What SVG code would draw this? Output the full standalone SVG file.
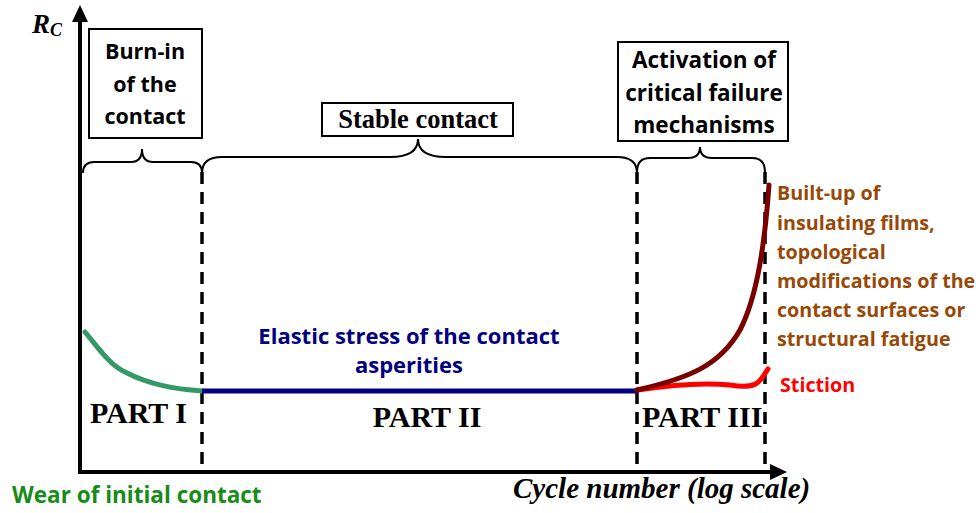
<svg xmlns="http://www.w3.org/2000/svg" width="980" height="513" viewBox="0 0 980 513">
<style>
.box{fill:#fff;stroke:#000;stroke-width:2}
.bt{font-family:"Open Sans","Liberation Sans",sans-serif;font-weight:bold;font-size:21.5px;fill:#000;text-anchor:middle}
.bt2{font-size:22.5px}
.brace{fill:none;stroke:#000;stroke-width:2}
.dash{stroke:#000;stroke-width:3.5;stroke-dasharray:12 8;fill:none}
.axis{stroke:#000;stroke-width:4;fill:none}
.part{font-family:"Liberation Serif",serif;font-weight:bold;font-size:30px;fill:#000}
.lbl{font-family:"Open Sans","Liberation Sans",sans-serif;font-weight:bold;font-size:19.7px}
.curve{fill:none;stroke-width:5;stroke-linecap:round}
</style>
<rect width="980" height="513" fill="#fff"/>
<g id="axes">
<line class="axis" x1="80" y1="20" x2="80" y2="474"/>
<polygon points="80,5 72,22 88,22" fill="#000"/>
<line class="axis" x1="78" y1="472" x2="772" y2="472"/>
<polygon points="787,472 770,464 770,480" fill="#000"/>
<text x="32" y="33" font-family="Liberation Serif,serif" font-weight="bold" font-style="italic" font-size="27">R<tspan font-size="18" dy="3">C</tspan></text>
<text x="513" y="498" font-family="Liberation Serif,serif" font-weight="bold" font-style="italic" font-size="29">Cycle number (log scale)</text>
</g>
<g id="connectors">
<path class="brace" d="M83,173 Q83,162 94,162 L131,162 Q142,162 142,149 Q142,162 153,162 L191,162 Q202,162 202,173"/>
<path class="brace" d="M202,173 Q202,157 222,157 L390,157 Q418,157 418,139 Q418,157 446,157 L617,157 Q637,157 637,173"/>
<path class="brace" d="M637,172 Q637,158 650,158 L688,158 Q700,158 700,147 Q700,158 712,158 L752,158 Q765,158 765,172"/>
<line class="dash" x1="202" y1="172" x2="202" y2="470"/>
<line class="dash" x1="637" y1="172" x2="637" y2="470"/>
<line class="dash" x1="765" y1="172" x2="765" y2="470"/>
</g>
<g id="burnin">
<rect class="box" x="89" y="29" width="113" height="109"/>
<text class="bt" x="145" y="59">Burn-in</text>
<text class="bt" x="145" y="92">of the</text>
<text class="bt" x="145" y="124">contact</text>
</g>
<g id="stable">
<rect class="box" x="322" y="103" width="191" height="33"/>
<text x="418" y="128" font-family="Liberation Serif,serif" font-weight="bold" font-size="26.5" text-anchor="middle">Stable contact</text>
</g>
<g id="activation">
<rect class="box" x="618" y="42" width="170" height="99"/>
<text class="bt bt2" x="704" y="68">Activation of</text>
<text class="bt bt2" x="704" y="101">critical failure</text>
<text class="bt bt2" x="704" y="133">mechanisms</text>
</g>
<g id="curves">
<path class="curve" stroke="#339966" d="M85,332 C100,350 110,365 125,372 C150,385 175,389 202,391"/>
<line x1="202" y1="391" x2="637" y2="391" stroke="#000080" stroke-width="5"/>
<path class="curve" stroke="#ff0000" d="M637,390 C670,385 700,382 730,385 C760,390 760,380 768,369"/>
<path class="curve" stroke="#7a0000" d="M637,390 C690,378 720,365 740,330 C758,295 765,240 769,185"/>
</g>
<g id="part1"><text class="part" x="90" y="423">PART I</text></g>
<g id="part2"><text class="part" x="427" y="427" text-anchor="middle">PART II</text></g>
<g id="part3"><text class="part" x="642" y="427">PART III</text></g>
<g id="elastic">
<text class="lbl" fill="#000080" x="409" y="344" text-anchor="middle" style="font-size:22px">Elastic stress of the contact</text>
<text class="lbl" fill="#000080" x="409" y="373" text-anchor="middle" style="font-size:22px">asperities</text>
</g>
<g id="builtup">
<text class="lbl" fill="#984807" x="777" y="200">Built-up of</text>
<text class="lbl" fill="#984807" x="777" y="230">insulating films,</text>
<text class="lbl" fill="#984807" x="777" y="259">topological</text>
<text class="lbl" fill="#984807" x="777" y="288">modifications of the</text>
<text class="lbl" fill="#984807" x="777" y="317">contact surfaces or</text>
<text class="lbl" fill="#984807" x="777" y="346">structural fatigue</text>
</g>
<g id="stiction"><text class="lbl" fill="#ff0000" x="780" y="392">Stiction</text></g>
<g id="wear"><text class="lbl" fill="#178c17" x="12" y="503" style="font-size:22.5px">Wear of initial contact</text></g>
</svg>
